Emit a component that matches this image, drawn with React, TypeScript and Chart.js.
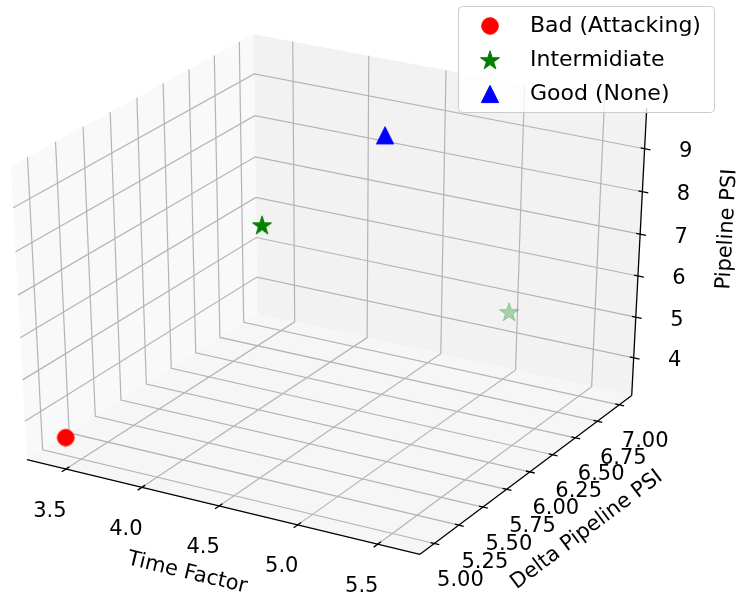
import React, { useEffect, useRef } from 'react';
import { Chart, registerables } from 'chart.js';

Chart.register(...registerables);

// ---------------- data ----------------
const SERIES_NAMES = ['Bad (Attacking)', 'Intermidiate', 'Good (None)'];

const BAD_TIME = [3.4];
const BAD_DELTA = [5.0];
const BAD_PSI = [3.5];

const MID_TIME = [4.7, 5.6];
const MID_DELTA = [5.0, 6.0];
const MID_PSI = [9.5, 6.75];

const GOOD_TIME = [4.2];
const GOOD_DELTA = [7.0];
const GOOD_PSI = [8.4];

const X_TICKS = [3.5, 4.0, 4.5, 5.0, 5.5];
const Y_TICKS = [5.0, 5.25, 5.5, 5.75, 6.0, 6.25, 6.5, 6.75, 7.0];
const Z_TICKS = [4, 5, 6, 7, 8, 9];
const X_TICK_LABELS = ['3.5', '4.0', '4.5', '5.0', '5.5'];
const Y_TICK_LABELS = ['5.00', '5.25', '5.50', '5.75', '6.00', '6.25', '6.50', '6.75', '7.00'];
const Z_TICK_LABELS = ['4', '5', '6', '7', '8', '9'];

const X_TITLE = 'Time Factor';
const Y_TITLE = 'Delta Pipeline PSI';
const Z_TITLE = 'Pipeline PSI';

// ---------------- view / projection ----------------
const ELEV = 30;
const AZIM = -60;
const DIST = 10;
const VIEW_X = [-0.073617, 0.089266];
const VIEW_Y = [-0.094111, 0.085078];
const FONT = '"DejaVu Sans", "Liberation Sans", sans-serif';

function paneBounds(vals: number[]): [number, number] {
  const lo = Math.min(...vals);
  const hi = Math.max(...vals);
  const m = (hi - lo) * 0.05;
  const a = lo - m;
  const b = hi + m;
  const d = (b - a) / 48;
  return [a - d, b + d];
}

const XB = paneBounds([...BAD_TIME, ...MID_TIME, ...GOOD_TIME]);
const YB = paneBounds([...BAD_DELTA, ...MID_DELTA, ...GOOD_DELTA]);
const ZB = paneBounds([...BAD_PSI, ...MID_PSI, ...GOOD_PSI]);

const dot = (a: number[], b: number[]) => a[0] * b[0] + a[1] * b[1] + a[2] * b[2];
const cross = (a: number[], b: number[]) => [
  a[1] * b[2] - a[2] * b[1],
  a[2] * b[0] - a[0] * b[2],
  a[0] * b[1] - a[1] * b[0],
];
const norm = (a: number[]) => {
  const l = Math.sqrt(dot(a, a));
  return [a[0] / l, a[1] / l, a[2] / l];
};

const RE = (ELEV * Math.PI) / 180;
const RA = (AZIM * Math.PI) / 180;
const EYE = [
  0.5 + Math.cos(RA) * Math.cos(RE) * DIST,
  0.5 + Math.sin(RA) * Math.cos(RE) * DIST,
  0.5 + Math.sin(RE) * DIST,
];
const NV = norm([EYE[0] - 0.5, EYE[1] - 0.5, EYE[2] - 0.5]);
const UV = norm(cross([0, 0, 1], NV));
const VV = cross(NV, UV);

function projN(a: number, b: number, c: number) {
  const d = [a - EYE[0], b - EYE[1], c - EYE[2]];
  const xv = dot(UV, d);
  const yv = dot(VV, d);
  const zv = dot(NV, d);
  return { x: xv / -zv, y: yv / -zv, depth: 10 / zv };
}
const nx = (v: number) => (v - XB[0]) / (XB[1] - XB[0]);
const ny = (v: number) => (v - YB[0]) / (YB[1] - YB[0]);
const nz = (v: number) => (v - ZB[0]) / (ZB[1] - ZB[0]);
function proj(x: number, y: number, z: number) {
  return projN(nx(x), ny(y), nz(z));
}

// ---------------- markers ----------------
function makeMarker(kind: string, color: string, alpha: number) {
  const c = document.createElement('canvas');
  c.width = 24;
  c.height = 24;
  const g = c.getContext('2d') as CanvasRenderingContext2D;
  g.globalAlpha = alpha;
  g.fillStyle = color;
  g.strokeStyle = color;
  g.lineWidth = 1;
  g.beginPath();
  if (kind === 'circle') {
    g.arc(12, 12, 8.3, 0, Math.PI * 2);
  } else if (kind === 'star') {
    const R = 10;
    const r = R * 0.381966;
    for (let i = 0; i < 10; i++) {
      const rad = i % 2 === 0 ? R : r;
      const ang = -Math.PI / 2 + (i * Math.PI) / 5;
      const px = 12 + rad * Math.cos(ang);
      const py = 12.8 + rad * Math.sin(ang);
      if (i === 0) g.moveTo(px, py);
      else g.lineTo(px, py);
    }
    g.closePath();
  } else {
    const h = 8.6;
    g.moveTo(12, 12 - h);
    g.lineTo(12 + h, 12 + h);
    g.lineTo(12 - h, 12 + h);
    g.closePath();
  }
  g.fill();
  g.stroke();
  return c;
}

function depthAlphas(pts: { depth: number }[]) {
  const ds = pts.map((p) => p.depth);
  const lo = Math.min(...ds);
  const hi = Math.max(...ds);
  return ds.map((d) => (hi > lo ? 1 - ((d - lo) / (hi - lo)) * 0.7 : 1));
}

let LEGEND_MARKERS: HTMLCanvasElement[] = [];

// ---------------- axes plugin ----------------
const axes3dPlugin = {
  id: 'axes3d',
  beforeDraw(chart: any) {
    const ctx = chart.ctx;
    ctx.save();
    ctx.fillStyle = '#ffffff';
    ctx.fillRect(0, 0, chart.width, chart.height);
    ctx.restore();
  },
  beforeDatasetsDraw(chart: any) {
    const ctx: CanvasRenderingContext2D = chart.ctx;
    const xs = chart.scales.x;
    const ys = chart.scales.y;
    const P = (a: number, b: number, c: number) => {
      const p = projN(a, b, c);
      return [xs.getPixelForValue(p.x), ys.getPixelForValue(p.y)];
    };
    const poly = (pts: number[][], fill: string) => {
      ctx.beginPath();
      pts.forEach((q, i) => {
        const s = P(q[0], q[1], q[2]);
        if (i === 0) ctx.moveTo(s[0], s[1]);
        else ctx.lineTo(s[0], s[1]);
      });
      ctx.closePath();
      ctx.fillStyle = fill;
      ctx.fill();
    };
    const line = (pts: number[][], color: string, w: number) => {
      ctx.beginPath();
      pts.forEach((q, i) => {
        const s = P(q[0], q[1], q[2]);
        if (i === 0) ctx.moveTo(s[0], s[1]);
        else ctx.lineTo(s[0], s[1]);
      });
      ctx.strokeStyle = color;
      ctx.lineWidth = w;
      ctx.stroke();
    };

    ctx.save();
    // panes
    poly([[0, 0, 0], [0, 1, 0], [0, 1, 1], [0, 0, 1]], '#f9f9f9');
    poly([[0, 1, 0], [1, 1, 0], [1, 1, 1], [0, 1, 1]], '#f2f2f2');
    poly([[0, 0, 0], [1, 0, 0], [1, 1, 0], [0, 1, 0]], '#f6f6f6');

    // grid
    const gc = '#b4b4b4';
    const gw = 1.2;
    X_TICKS.forEach((t) => {
      const a = nx(t);
      line([[a, 0, 0], [a, 1, 0], [a, 1, 1]], gc, gw);
    });
    Y_TICKS.forEach((t) => {
      const b = ny(t);
      line([[1, b, 0], [0, b, 0], [0, b, 1]], gc, gw);
    });
    Z_TICKS.forEach((t) => {
      const c = nz(t);
      line([[0, 0, c], [0, 1, c], [1, 1, c]], gc, gw);
    });

    // axis lines
    line([[0, 0, 0], [1, 0, 0]], '#000', 1.3);
    line([[1, 0, 0], [1, 1, 0]], '#000', 1.3);
    line([[1, 1, 0], [1, 1, 1]], '#000', 1.3);

    const tickMark = (p0: number[], p1: number[], inLen: number, outLen: number) => {
      const a = P(p0[0], p0[1], p0[2]);
      const b = P(p1[0], p1[1], p1[2]);
      const dx = b[0] - a[0];
      const dy = b[1] - a[1];
      const l = Math.sqrt(dx * dx + dy * dy) || 1;
      ctx.beginPath();
      ctx.moveTo(a[0] - (dx / l) * inLen, a[1] - (dy / l) * inLen);
      ctx.lineTo(a[0] + (dx / l) * outLen, a[1] + (dy / l) * outLen);
      ctx.strokeStyle = '#000';
      ctx.lineWidth = 1.3;
      ctx.stroke();
      return a;
    };
    const text = (s: string, x: number, y: number, size: number, rot = 0) => {
      ctx.save();
      ctx.translate(x, y);
      ctx.rotate(rot);
      ctx.font = `${size}px ${FONT}`;
      ctx.fillStyle = '#000';
      ctx.textAlign = 'center';
      ctx.textBaseline = 'middle';
      ctx.fillText(s, 0, 0);
      ctx.restore();
    };

    // x ticks + labels
    X_TICKS.forEach((t, i) => {
      const a = nx(t);
      const s = tickMark([a, 0, 0], [a, -0.05, 0], 4, 5);
      text(X_TICK_LABELS[i], s[0] - 16, s[1] + 42, 21);
    });
    // y ticks + labels
    Y_TICKS.forEach((t, i) => {
      const b = ny(t);
      const s = tickMark([1, b, 0], [1.05, b, 0], 4, 5);
      text(Y_TICK_LABELS[i], s[0] + 26, s[1] + 37, 21);
    });
    // z ticks + labels
    Z_TICKS.forEach((t, i) => {
      const c = nz(t);
      const s = tickMark([1, 1, c], [1.05, 1, c], 4, 6);
      text(Z_TICK_LABELS[i], s[0] + 41, s[1] + 3, 21);
    });

    // axis titles
    const angle = (p0: number[], p1: number[]) => {
      const a = P(p0[0], p0[1], p0[2]);
      const b = P(p1[0], p1[1], p1[2]);
      let ang = Math.atan2(b[1] - a[1], b[0] - a[0]);
      if (ang > Math.PI / 2) ang -= Math.PI;
      if (ang < -Math.PI / 2) ang += Math.PI;
      return ang;
    };
    const mx = P(0.5, 0, 0);
    text(X_TITLE, mx[0] - 32, mx[1] + 67, 21, angle([0, 0, 0], [1, 0, 0]));
    const my = P(1, 0.5, 0);
    text(Y_TITLE, my[0] + 57, my[1] + 58, 21, angle([1, 0, 0], [1, 1, 0]));
    const mz = P(1, 1, 0.5);
    text(Z_TITLE, mz[0] + 88, mz[1] - 26, 21, angle([1, 1, 0], [1, 1, 1]));
    ctx.restore();
  },
  afterDraw(chart: any) {
    const ctx: CanvasRenderingContext2D = chart.ctx;
    const markers = LEGEND_MARKERS;
    ctx.save();
    const bx = 458.5, by = 6.5, bw = 256, bh = 106, r = 4;
    ctx.beginPath();
    ctx.moveTo(bx + r, by);
    ctx.lineTo(bx + bw - r, by);
    ctx.quadraticCurveTo(bx + bw, by, bx + bw, by + r);
    ctx.lineTo(bx + bw, by + bh - r);
    ctx.quadraticCurveTo(bx + bw, by + bh, bx + bw - r, by + bh);
    ctx.lineTo(bx + r, by + bh);
    ctx.quadraticCurveTo(bx, by + bh, bx, by + bh - r);
    ctx.lineTo(bx, by + r);
    ctx.quadraticCurveTo(bx, by, bx + r, by);
    ctx.closePath();
    ctx.fillStyle = 'rgba(255,255,255,0.8)';
    ctx.fill();
    ctx.strokeStyle = '#cccccc';
    ctx.lineWidth = 1;
    ctx.stroke();
    SERIES_NAMES.forEach((name, i) => {
      const yy = 26 + i * 34;
      const m = markers[i];
      if (m) ctx.drawImage(m, 490 - m.width / 2, yy - m.height / 2);
      ctx.font = `22px ${FONT}`;
      ctx.fillStyle = '#000';
      ctx.textAlign = 'left';
      ctx.textBaseline = 'middle';
      ctx.fillText(name, 530, yy);
    });
    ctx.restore();
  },
};

export default function App() {
  const ref = useRef<HTMLCanvasElement | null>(null);

  useEffect(() => {
    if (!ref.current) return;
    LEGEND_MARKERS = [
      makeMarker('circle', '#ff0000', 1),
      makeMarker('star', '#008000', 1),
      makeMarker('triangle', '#0000ff', 1),
    ];
    const badPts = BAD_TIME.map((t, i) => proj(t, BAD_DELTA[i], BAD_PSI[i]));
    const midPts = MID_TIME.map((t, i) => proj(t, MID_DELTA[i], MID_PSI[i]));
    const goodPts = GOOD_TIME.map((t, i) => proj(t, GOOD_DELTA[i], GOOD_PSI[i]));

    const badA = depthAlphas(badPts);
    const midA = depthAlphas(midPts);
    const goodA = depthAlphas(goodPts);

    const chart = new Chart(ref.current, {
      type: 'scatter',
      data: {
        datasets: [
          {
            label: SERIES_NAMES[0],
            data: badPts.map((p) => ({ x: p.x, y: p.y })),
            pointStyle: badA.map((a) => makeMarker('circle', '#ff0000', a)),
            pointRadius: 9,
            clip: false,
          },
          {
            label: SERIES_NAMES[1],
            data: midPts.map((p) => ({ x: p.x, y: p.y })),
            pointStyle: midA.map((a) => makeMarker('star', '#008000', a)),
            pointRadius: 9,
            clip: false,
          },
          {
            label: SERIES_NAMES[2],
            data: goodPts.map((p) => ({ x: p.x, y: p.y })),
            pointStyle: goodA.map((a) => makeMarker('triangle', '#0000ff', a)),
            pointRadius: 9,
            clip: false,
          },
        ] as any,
      },
      options: {
        animation: false,
        responsive: false,
        events: [],
        layout: { padding: 0, autoPadding: false },
        plugins: { legend: { display: false }, tooltip: { enabled: false } },
        scales: {
          x: { type: 'linear', min: VIEW_X[0], max: VIEW_X[1], display: false },
          y: { type: 'linear', min: VIEW_Y[0], max: VIEW_Y[1], display: false },
        },
      },
      plugins: [axes3dPlugin],
    });
    return () => chart.destroy();
  }, []);

  return (
    <div style={{ position: 'absolute', left: 0, top: 0, width: 739, height: 601, background: '#fff' }}>
      <canvas ref={ref} width={739} height={601} />
    </div>
  );
}
